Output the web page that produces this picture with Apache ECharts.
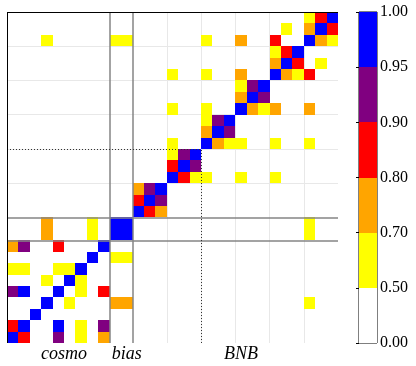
<!DOCTYPE html>
<html>
<head>
<meta charset="utf-8">
<script src="https://cdn.jsdelivr.net/npm/echarts@6/dist/echarts.min.js"></script>
</head>
<body style="margin:0;background:#fff;">
<div id="container" style="width:416px;height:366px;"></div>
<script>
var nParams = 29;
// parameter groups along both axes
var groupNames = ['cosmo', 'bias', 'BNB'];
var groupSizes = [9, 2, 18];
// colour bins of the |correlation| scale
var binEdges = [0, 0.5, 0.7, 0.8, 0.9, 0.95, 1.0];
var binColors = ['#ffffff', '#ffff00', '#ffa500', '#ff0000', '#800080', '#0000ff'];
var tickLabels = ['0.00', '0.50', '0.70', '0.80', '0.90', '0.95', '1.00'];
// upper triangle [i, j, |corr|], cells below 0.5 left out (white)
var corrPairs = [
	[0, 0, 1.00], [0, 1, 0.85], [0, 4, 0.92], [0, 6, 0.60], [0, 8, 0.75],
	[1, 1, 1.00], [1, 4, 0.97], [1, 6, 0.60], [1, 8, 0.92],
	[2, 2, 1.00],
	[3, 3, 1.00], [3, 5, 0.60], [3, 9, 0.75], [3, 10, 0.75], [3, 26, 0.55],
	[4, 4, 1.00], [4, 6, 0.60], [4, 8, 0.85],
	[5, 5, 1.00], [5, 6, 0.60],
	[6, 6, 1.00],
	[7, 7, 1.00], [7, 9, 0.60], [7, 10, 0.60],
	[8, 8, 1.00],
	[9, 9, 1.00], [9, 10, 0.99], [9, 26, 0.55],
	[10, 10, 1.00], [10, 26, 0.55],
	[11, 11, 1.00], [11, 12, 0.85], [11, 13, 0.75],
	[12, 12, 1.00], [12, 13, 0.92],
	[13, 13, 1.00],
	[14, 14, 1.00], [14, 15, 0.85], [14, 16, 0.60], [14, 17, 0.55], [14, 20, 0.55], [14, 23, 0.55],
	[15, 15, 1.00], [15, 16, 0.92],
	[16, 16, 1.00],
	[17, 17, 1.00], [17, 18, 0.75], [17, 19, 0.60], [17, 20, 0.55], [17, 23, 0.55], [17, 26, 0.55],
	[18, 18, 1.00], [18, 19, 0.92],
	[19, 19, 1.00],
	[20, 20, 1.00], [20, 21, 0.75], [20, 22, 0.60], [20, 23, 0.72], [20, 26, 0.72],
	[21, 21, 1.00], [21, 22, 0.92],
	[22, 22, 1.00],
	[23, 23, 1.00], [23, 24, 0.75], [23, 25, 0.60], [23, 26, 0.85],
	[24, 24, 1.00], [24, 25, 0.85], [24, 27, 0.55],
	[25, 25, 1.00],
	[26, 26, 1.00], [26, 27, 0.75], [26, 28, 0.60],
	[27, 27, 1.00], [27, 28, 0.85],
	[28, 28, 1.00]
];

var dom = document.getElementById('container');
var myChart = echarts.init(dom, null, {renderer: 'canvas'});

// symmetric matrix cells
var cells = [];
corrPairs.forEach(function(p) {
	cells.push([p[1], p[0], p[2]]);
	if (p[0] !== p[1]) cells.push([p[0], p[1], p[2]]);
});

// group label positions and block boundaries
var labelAt = {};
var bounds = [];
var start = 0;
groupNames.forEach(function(name, k) {
	labelAt[start + groupSizes[k] / 2 + 0.5] = name;
	start += groupSizes[k];
	if (start < nParams) bounds.push(start);
});
var bnbStart = groupSizes[0] + groupSizes[1];

function hLine(y, x0, x1, style) { return {coords: [[x0, y], [x1, y]], lineStyle: style}; }
function vLine(x, y0, y1, style) { return {coords: [[x, y0], [x, y1]], lineStyle: style}; }

var lightStyle = {color: '#e8e8e8', width: 1, type: 'solid', opacity: 1};
var darkStyle = {color: '#858585', width: 1.5, type: 'solid', opacity: 1};
var dotStyle = {color: '#333', width: 1, type: [1, 2], opacity: 1};
var frameStyle = {color: '#000', width: 1, type: 'solid', opacity: 1};

var lightLines = [];
for (var g = bnbStart + 3; g < nParams; g += 3) {
	lightLines.push(vLine(g, 0, nParams, lightStyle));
	lightLines.push(hLine(g, 0, nParams, lightStyle));
}
var topLines = [];
bounds.forEach(function(b) {
	topLines.push(vLine(b, 0, nParams, darkStyle));
	topLines.push(hLine(b, 0, nParams, darkStyle));
});
var sub = bnbStart + 6;
topLines.push(hLine(sub, 0, sub, dotStyle));
topLines.push(vLine(sub, 0, sub, dotStyle));
topLines.push(hLine(0, 0, nParams, frameStyle));
topLines.push(hLine(nParams, 0, nParams, frameStyle));
topLines.push(vLine(0, 0, nParams, frameStyle));
topLines.push(vLine(nParams, 0, nParams, frameStyle));

var pieces = [];
for (var k = 0; k < binColors.length; k++) {
	var pc = {gte: binEdges[k], color: binColors[k]};
	if (k < binColors.length - 1) pc.lt = binEdges[k + 1]; else pc.lte = binEdges[k + 1];
	pieces.push(pc);
}

// whole-pixel rectangle between two corner points, so neighbours do not leave seams
function pixelRect(p0, p1, fill) {
	var x0 = Math.round(p0[0]), y0 = Math.round(p0[1]);
	var x1 = Math.round(p1[0]), y1 = Math.round(p1[1]);
	return {
		type: 'rect',
		shape: {x: x0, y: y0, width: x1 - x0, height: y1 - y0},
		style: {fill: fill}
	};
}

function renderCell(params, api) {
	var p0 = api.coord([api.value(0), api.value(1) + 1]);
	var p1 = api.coord([api.value(0) + 1, api.value(1)]);
	return pixelRect(p0, p1, api.visual('color'));
}

function renderBin(params, api) {
	var p0 = api.coord([0, api.value(1) + 1]);
	var p1 = api.coord([1, api.value(1)]);
	return pixelRect(p0, p1, binColors[params.dataIndex]);
}

var option = {
	animation: false,
	grid: [
		{left: 7, top: 12, width: 331, height: 331, show: false},
		{left: 359, top: 12, width: 18, height: 331, show: true, borderColor: '#000', borderWidth: 1}
	],
	visualMap: {
		type: 'piecewise',
		show: false,
		seriesIndex: 0,
		dimension: 2,
		pieces: pieces
	},
	xAxis: [{
		gridIndex: 0,
		type: 'value',
		min: 0,
		max: nParams,
		interval: 0.5,
		axisLine: {show: false},
		axisTick: {show: false},
		splitLine: {show: false},
		axisLabel: {
			margin: 2,
			fontFamily: 'Liberation Serif',
			fontStyle: 'italic',
			fontSize: 18,
			color: '#000',
			formatter: function(v) { return labelAt[v] || ''; }
		}
	}, {
		gridIndex: 1,
		type: 'value',
		min: 0,
		max: 1,
		show: false
	}],
	yAxis: [{
		gridIndex: 0,
		type: 'value',
		min: 0,
		max: nParams,
		show: false
	}, {
		gridIndex: 1,
		type: 'value',
		min: 0,
		max: tickLabels.length - 1,
		interval: 1,
		position: 'right',
		axisLine: {show: false},
		axisTick: {show: true, inside: true, length: 3, lineStyle: {color: '#000'}},
		splitLine: {show: false},
		axisLabel: {
			margin: 3,
			fontFamily: 'Liberation Serif',
			fontSize: 16,
			color: '#000',
			formatter: function(v) { return tickLabels[v]; }
		}
	}],
	series: [{
		type: 'custom',
		xAxisIndex: 0,
		yAxisIndex: 0,
		z: 2,
		silent: true,
		renderItem: renderCell,
		encode: {x: 0, y: 1},
		data: cells
	}, {
		type: 'lines',
		coordinateSystem: 'cartesian2d',
		xAxisIndex: 0,
		yAxisIndex: 0,
		z: 1,
		silent: true,
		data: lightLines
	}, {
		type: 'lines',
		coordinateSystem: 'cartesian2d',
		xAxisIndex: 0,
		yAxisIndex: 0,
		z: 3,
		silent: true,
		data: topLines
	}, {
		type: 'custom',
		xAxisIndex: 1,
		yAxisIndex: 1,
		z: 1,
		silent: true,
		renderItem: renderBin,
		encode: {x: 0, y: 1},
		data: binColors.map(function(c, k) { return [0, k]; })
	}]
};
myChart.setOption(option);
</script>
</body>
</html>
